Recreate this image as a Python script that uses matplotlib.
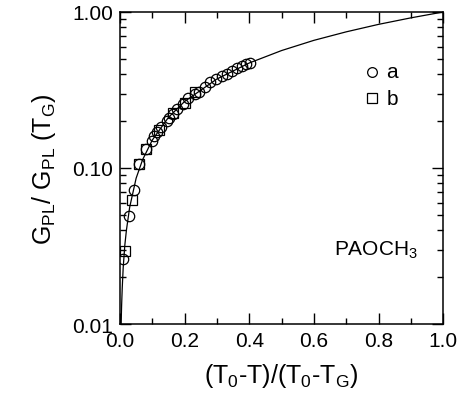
import matplotlib
matplotlib.use('Agg')
import matplotlib.pyplot as plt
from matplotlib.ticker import FixedLocator, FuncFormatter, LogLocator, MultipleLocator

plt.rcParams['font.family'] = ['Liberation Sans', 'DejaVu Sans']
plt.rcParams['mathtext.fontset'] = 'custom'
plt.rcParams['mathtext.rm'] = 'Liberation Sans'
plt.rcParams['mathtext.it'] = 'Liberation Sans'
plt.rcParams['mathtext.default'] = 'rm'

# fitted curve
curve_x = [0.0036, 0.005, 0.007, 0.01, 0.015, 0.02, 0.03, 0.05, 0.07, 0.1,
           0.15, 0.2, 0.3, 0.4, 0.5, 0.6, 0.7, 0.8, 0.9, 1.0]
curve_y = [0.010, 0.013, 0.017, 0.023, 0.032, 0.040, 0.056, 0.086, 0.113, 0.151,
           0.211, 0.267, 0.372, 0.471, 0.566, 0.658, 0.746, 0.833, 0.917, 1.0]

# series a (circles)
a_x = [0.010, 0.029, 0.044, 0.060, 0.080, 0.098, 0.105, 0.115, 0.127, 0.146,
       0.153, 0.165, 0.177, 0.194, 0.211, 0.232, 0.246, 0.263, 0.279, 0.297,
       0.315, 0.330, 0.346, 0.361, 0.377, 0.390, 0.402]
a_y = [0.026, 0.049, 0.072, 0.106, 0.132, 0.150, 0.161, 0.169, 0.182, 0.201,
       0.208, 0.222, 0.239, 0.257, 0.280, 0.298, 0.306, 0.329, 0.354, 0.372,
       0.387, 0.401, 0.421, 0.435, 0.453, 0.464, 0.471]

# series b (squares)
b_x = [0.015, 0.036, 0.060, 0.080, 0.120, 0.165, 0.200, 0.232]
b_y = [0.0295, 0.062, 0.106, 0.132, 0.175, 0.225, 0.262, 0.305]

fig = plt.figure(figsize=(4.65, 4.06), dpi=100)
ax = fig.add_axes([0.258, 0.1995, 0.695, 0.7685])

ax.plot(curve_x, curve_y, color='black', lw=0.9, zorder=2)
ax.plot(a_x, a_y, 'o', ms=7.5, mfc='none', mec='black', mew=0.9, zorder=3)
ax.plot(b_x, b_y, 's', ms=6.5, mfc='none', mec='black', mew=0.9, zorder=3)

# legend drawn inside the axes
ax.plot([0.779], [0.414], 'o', ms=7, mfc='none', mec='black', mew=0.9)
ax.plot([0.779], [0.28], 's', ms=6.5, mfc='none', mec='black', mew=0.9)
ax.text(0.825, 0.414, 'a', fontsize=15, va='center', ha='left')
ax.text(0.825, 0.28, 'b', fontsize=15, va='center', ha='left')

ax.text(0.923, 0.221, r'PAOCH$_3$', transform=ax.transAxes, fontsize=15,
        ha='right', va='baseline')

ax.set_yscale('log')
ax.set_xlim(0, 1)
ax.set_ylim(0.01, 1)

ax.xaxis.set_major_locator(MultipleLocator(0.2))
ax.xaxis.set_minor_locator(MultipleLocator(0.1))
ax.xaxis.set_major_formatter(FuncFormatter(lambda v, p: '%.1f' % v))
ax.yaxis.set_major_locator(FixedLocator([0.01, 0.1, 1.0]))
ax.yaxis.set_minor_locator(LogLocator(base=10, subs=range(2, 10)))
ax.yaxis.set_major_formatter(FuncFormatter(lambda v, p: '%.2f' % v))

ax.tick_params(which='both', direction='in', top=True, right=True,
               labelsize=15, width=1.0)
ax.tick_params(which='major', length=8, pad=5)
ax.tick_params(which='minor', length=4)
ax.yaxis.set_minor_formatter(FuncFormatter(lambda v, p: ''))

for s in ax.spines.values():
    s.set_linewidth(1.1)

ax.set_xlabel(r'(T$_0$-T)/(T$_0$-T$_G$)', fontsize=18, labelpad=8)
ax.set_ylabel(r'G$_{PL}$/ G$_{PL}$ (T$_G$)', fontsize=18, labelpad=10)

fig.savefig('out.png', dpi=100)
